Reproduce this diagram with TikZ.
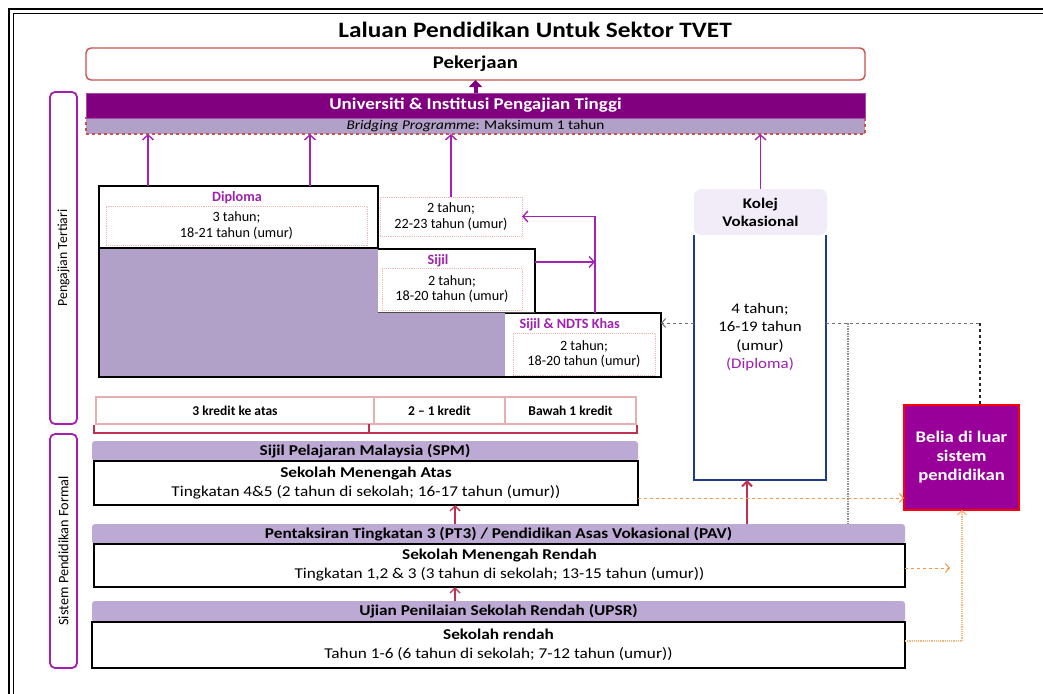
\documentclass[tikz,border=0pt]{standalone}
\usepackage{fontspec}
\setmainfont{Carlito}
\newfontfamily\wide{Carlito}[FakeStretch=1.15]
\usetikzlibrary{arrows.meta}
\definecolor{pekred}{RGB}{200,80,77}
\definecolor{univpurple}{RGB}{128,0,128}
\definecolor{lav}{RGB}{177,160,199}
\definecolor{hdrlav}{RGB}{189,170,212}
\definecolor{apurple}{RGB}{165,35,180}
\definecolor{tpurple}{RGB}{160,32,176}
\definecolor{pinkdot}{RGB}{242,180,180}
\definecolor{kredit}{RGB}{230,176,176}
\definecolor{crimson}{RGB}{192,48,80}
\definecolor{orangeln}{RGB}{247,150,70}
\definecolor{navy}{RGB}{31,60,136}
\definecolor{belia}{RGB}{153,0,153}
\definecolor{kolejhead}{RGB}{241,236,248}
\definecolor{sidebar}{RGB}{165,30,175}
\newcommand\fsz[2]{\fontsize{#1}{#2}\selectfont}
\begin{document}
\begin{tikzpicture}[x=1pt,y=-1pt,
  bx/.style={inner sep=0pt,outer sep=0pt,anchor=north west,align=center},
  uparr/.style={apurple,line width=1.4pt,-{Straight Barb[length=5pt,width=11pt]}},
  redarr/.style={crimson,line width=1.4pt,-{Straight Barb[length=5pt,width=10pt]}},
  dotbox/.style={bx,draw=pinkdot,densely dotted,line width=0.9pt,font=\fsz{14.2}{15.5}},
  hdr/.style={bx,fill=hdrlav,rounded corners=3pt,font=\wide\bfseries\fsz{15}{17}},
  body/.style={bx,draw=black,line width=1.6pt,fill=white,font=\wide\fsz{15}{19}},
  kbox/.style={bx,draw=kredit,line width=1.3pt,font=\bfseries\fsz{13.5}{15}},
  side/.style={bx,draw=sidebar,line width=1.8pt,rounded corners=5pt},
  ttl/.style={text=tpurple,font=\bfseries\fsz{14.2}{16}}
]
\useasboundingbox (0,0) rectangle (1043,693);
\fill[white] (0,0) rectangle (1043,693);
% outer double frame
\begin{scope}
\clip (0,0) rectangle (1043,693);
\draw[line width=1.6pt] (9,720) -- (9,9) -- (1060,9);
\draw[line width=1.6pt] (13.5,720) -- (13.5,13.5) -- (1060,13.5);
\end{scope}

% title
\node[font=\wide\bfseries\fsz{22}{25}] (title) at (535,30) {Laluan Pendidikan Untuk Sektor TVET};

% top boxes
\node[bx,draw=pekred,line width=1.4pt,rounded corners=5pt,minimum width=779pt,minimum height=32pt,font=\wide\bfseries\fsz{18}{20}] (pek) at (86,48) {Pekerjaan};
\node[bx,fill=lav,draw=pekred,dashed,line width=1.3pt,minimum width=779pt,minimum height=16pt,font=\wide\fsz{13.3}{14}] (bridge) at (86,118) {\textit{Bridging Programme}: Maksimum 1 tahun};
\node[bx,fill=univpurple,draw=univpurple!70!white,line width=0.8pt,minimum width=779pt,minimum height=25pt,text=white,font=\wide\bfseries\fsz{16.5}{18}] (univ) at (86,93) {Universiti \& Institusi Pengajian Tinggi};
\draw[univpurple,line width=4pt,-{Triangle[length=7pt,width=13pt]}] (univ.north) -- (pek.south);

% side bars
\node[side,minimum width=27pt,minimum height=332pt] (lb1) at (50,92) {};
\node[rotate=90,font=\fsz{13.8}{15}] at (lb1.center) {Pengajian Tertiari};
\node[side,minimum width=27pt,minimum height=234pt] (lb2) at (50,434) {};
\node[rotate=90,font=\fsz{14.3}{15}] at (lb2.center) {Sistem Pendidikan Formal};

% staircase
\fill[lav] (99,186) -- (378,186) -- (378,249) -- (535,249) -- (535,313) -- (661,313) -- (661,377) -- (99,377) -- cycle;
\node[bx,fill=white,draw=black,line width=1.6pt,minimum width=279pt,minimum height=62pt] (dip) at (99,186) {};
\node[bx,fill=white,minimum width=157pt,minimum height=63pt] (sij) at (378,249) {};
\node[bx,fill=white,minimum width=156pt,minimum height=64pt] (ndts) at (505,313) {};
\draw[line width=1.6pt] (dip.south west) -- (dip.south west |- ndts.south) -- (ndts.south east) -- (ndts.north east) -- (ndts.north west);
\draw[line width=1.6pt] (sij.north west) -- (sij.north east) -- (sij.south east);
\draw[line width=1pt,black!70] (sij.south west) -- (sij.south east);

\node[ttl] (diptitle) at (237,198) {Diploma};
\node[dotbox,minimum width=261pt,minimum height=39pt] (dipin) at (106,206) {3 tahun;\\18-21 tahun (umur)};
\node[dotbox,minimum width=142pt,minimum height=39pt] (two) at (380,197) {2 tahun;\\22-23 tahun (umur)};
\node[ttl] (sijtitle) at (438,261) {Sijil};
\node[dotbox,minimum width=140pt,minimum height=42pt] (sijin) at (382,268) {2 tahun;\\18-20 tahun (umur)};
\node[ttl,anchor=west] (ndtstitle) at (516,325) {Sijil \& NDTS Khas};
\node[dotbox,minimum width=142pt,minimum height=42pt] (ndtsin) at (513,333) {2 tahun;\\18-20 tahun (umur)};

% up arrows to bridging
\coordinate (a1) at (148,186);
\coordinate (a2) at (310,186);
\draw[uparr] (a1) -- (a1 |- bridge.south);
\draw[uparr] (a2) -- (a2 |- bridge.south);
\draw[uparr] (two.north) -- (two.north |- bridge.south);

% sijil connectors
\coordinate (j1) at (595,216.5);
\coordinate (j2) at (595,262);
\draw[uparr] (sij.east |- j2) -- (j2);
\draw[uparr] (ndts.north -| j1) -- (j1) -- (two.east);

% Kolej Vokasional
\node[bx,fill=kolejhead,rounded corners=7pt,minimum width=133pt,minimum height=46pt,font=\wide\bfseries\fsz{14.7}{18}] (khead) at (694,189) {Kolej\\Vokasional};
\node[bx,minimum width=132pt,minimum height=245pt] (kbody) at (694,235) {};
\draw[navy,line width=1.6pt] (kbody.north west) -- (kbody.south west) -- (kbody.south east) -- (kbody.north east);
\node[align=center,font=\wide\fsz{14.7}{18.3}] (ktext) at (760,337) {4 tahun;\\16-19 tahun\\(umur)\\{\color{tpurple}(Diploma)}};
\draw[uparr] (khead.north) -- (khead.north |- bridge.south);

% Belia
\node[bx,fill=belia,draw=red,line width=1.6pt,minimum width=115pt,minimum height=105pt,text=white,font=\wide\bfseries\fsz{16.2}{19}] (belia) at (904,405) {Belia di luar\\sistem\\pendidikan};

% gray dashed connectors
\coordinate (y323) at (0,323);
\coordinate (c1) at (980,323);
\coordinate (c2) at (848,323);
\draw[black!55,dashed,line width=1pt,-{Straight Barb[length=4pt,width=9pt]}] (kbody.west |- y323) -- (ndts.east |- y323);
\draw[black!55,dashed,line width=1pt] (kbody.east |- y323) -- (c1);
\draw[black!85,dashed,line width=1.6pt] (c1) -- (c1 |- belia.north);

% kredit row
\node[kbox,minimum width=278pt,minimum height=27pt] (k1) at (96,397) {3 kredit ke atas};
\node[kbox,minimum width=131pt,minimum height=27pt] (k2) at (374,397) {2 -- 1 kredit};
\node[kbox,minimum width=131pt,minimum height=27pt] (k3) at (505,397) {Bawah 1 kredit};
\coordinate (bl) at (94,433);
\coordinate (br) at (637,433);
\coordinate (bm) at (369,433);
\draw[crimson,line width=1.2pt] ([yshift=8pt]bl) -- (bl) -- (br) -- ([yshift=8pt]br);
\draw[crimson,line width=1.2pt] (bm) -- (bm |- k1.south);

% SPM
\node[hdr,minimum width=546pt,minimum height=20pt] (spmh) at (92,441) {Sijil Pelajaran Malaysia (SPM)};
\node[body,minimum width=544pt,minimum height=44pt] (spmb) at (94,461) {\textbf{Sekolah Menengah Atas}\\Tingkatan 4\&5 (2 tahun di sekolah; 16-17 tahun (umur))};

% PT3
\node[hdr,minimum width=813pt,minimum height=20pt] (pt3h) at (92,524) {Pentaksiran Tingkatan 3 (PT3) / Pendidikan Asas Vokasional (PAV)};
\node[body,minimum width=811pt,minimum height=43pt] (pt3b) at (94,544) {\textbf{Sekolah Menengah Rendah}\\Tingkatan 1,2 \& 3 (3 tahun di sekolah; 13-15 tahun (umur))};

% UPSR
\node[hdr,minimum width=813pt,minimum height=21pt] (upsrh) at (92,601) {Ujian Penilaian Sekolah Rendah (UPSR)};
\node[body,minimum width=813pt,minimum height=46pt] (upsrb) at (92,622) {\textbf{Sekolah rendah}\\Tahun 1-6 (6 tahun di sekolah; 7-12 tahun (umur))};

% gray dotted vertical
\draw[black!45,densely dotted,line width=1.5pt] (c2) -- (c2 |- pt3h.north);

% red arrows
\coordinate (r1) at (455,0);
\coordinate (r2) at (747,0);
\draw[redarr] (pt3h.north -| r1) -- (spmb.south -| r1);
\draw[redarr] (upsrh.north -| r1) -- (pt3b.south -| r1);
\draw[redarr,line width=2pt] (pt3h.north -| r2) -- (kbody.south -| r2);

% orange connectors
\coordinate (o1) at (0,498);
\coordinate (o2) at (0,568);
\coordinate (o2e) at (950,568);
\coordinate (o3) at (962,641);
\draw[orangeln,dashed,line width=1pt,-{Straight Barb[length=4pt,width=9pt]}] (spmb.east |- o1) -- (belia.west |- o1);
\draw[orangeln,dashed,line width=1pt,-{Straight Barb[length=4pt,width=9pt]}] (pt3b.east |- o2) -- (o2e);
\draw[orangeln!70,densely dotted,line width=1.2pt,-{Straight Barb[length=4pt,width=9pt]}] (upsrb.east |- o3) -- (o3) -- (o3 |- belia.south);
\end{tikzpicture}
\end{document}
